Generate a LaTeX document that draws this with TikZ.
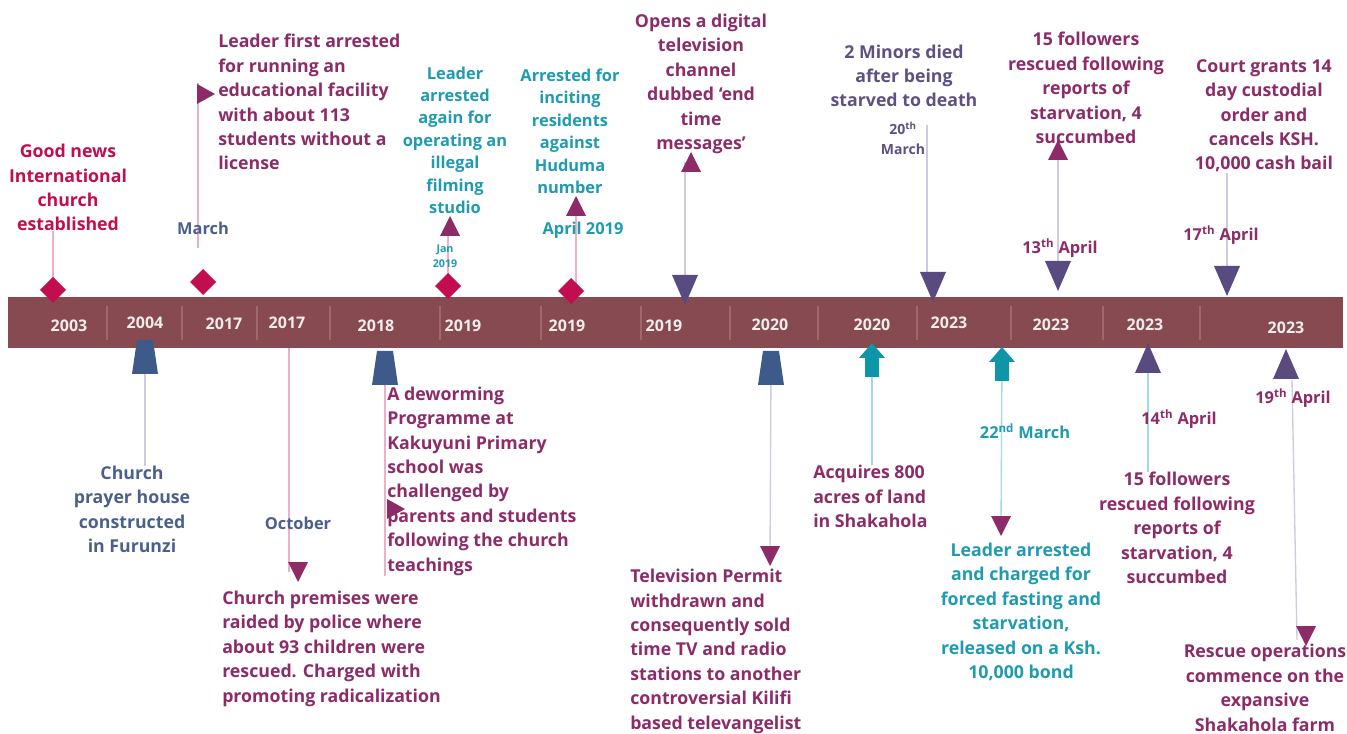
\documentclass[tikz,border=0pt]{standalone}
\usepackage{fontspec}
\setmainfont{Open Sans}
\usepackage{xcolor}
\usepackage{tikz}
\usetikzlibrary{backgrounds}

\definecolor{barred}{HTML}{874A50}
\definecolor{crimson}{HTML}{C20D4F}
\definecolor{plum}{HTML}{8C2B68}
\definecolor{tealtxt}{HTML}{1E9BB0}
\definecolor{tealarr}{HTML}{0E95A8}
\definecolor{slate}{HTML}{4B5F8E}
\definecolor{navyblk}{HTML}{3E5A8A}
\definecolor{darkpur}{HTML}{594B80}
\definecolor{greypur}{HTML}{5E5082}
\definecolor{yeartxt}{HTML}{F3ECEC}
\definecolor{sepline}{HTML}{A0676D}
\definecolor{pinkline}{HTML}{EDB0C6}
\definecolor{lavline}{HTML}{CFCAE0}
\definecolor{tealline}{HTML}{A3DAE3}

\begin{document}
\begin{tikzpicture}[
    x=0.75pt, y=-0.75pt,
    every node/.style={inner sep=0pt, font=\bfseries\fontsize{13.3}{18.3}\selectfont},
    desc/.style={align=center, anchor=base},
    descleft/.style={align=left, anchor=base west},
    narrow/.style={font=\bfseries\fontsize{12.3}{16.8}\selectfont},
    datelbl/.style={font=\bfseries\fontsize{12.3}{14}\selectfont},
    tinylbl/.style={align=center, font=\bfseries\fontsize{8}{11}\selectfont},
    yearlbl/.style={text=yeartxt, font=\bfseries\fontsize{12}{14}\selectfont},
    pinkln/.style={draw=pinkline, line width=1pt},
    lavln/.style={draw=lavline, line width=1pt},
    tealln/.style={draw=tealline, line width=1pt},
    diam/.pic={\fill (-13,0) -- (0,-13) -- (13,0) -- (0,13) -- cycle;},
    bigdown/.pic={\fill (-13,-15) -- (13,-15) -- (0,15) -- cycle;},
    bigup/.pic={\fill (-13,15) -- (13,15) -- (0,-15) -- cycle;},
    ptrdown/.pic={\fill (-10,-10) -- (10,-10) -- (0,10) -- cycle;},
    ptrup/.pic={\fill (-10,10) -- (10,10) -- (0,-10) -- cycle;},
    ptrright/.pic={\fill (-9,-10) -- (9,0) -- (-9,10) -- cycle;},
    trap/.pic={\fill (-8,-17) -- (8,-17) -- (13,17) -- (-13,17) -- cycle;},
    blockup/.pic={\fill (0,-17) -- (13,-2) -- (7,-2) -- (7,17) -- (-7,17) -- (-7,-2) -- (-13,-2) -- cycle;}
]
\useasboundingbox (0,0) rectangle (1347,734);

% marker positions above the bar
\coordinate (m03) at (53,290);
\coordinate (m17a) at (203,282);
\coordinate (m19a) at (448,286);
\coordinate (m19b) at (571,291);
\coordinate (m19c) at (685,290);
\coordinate (m20m) at (933,287);
\coordinate (m13a) at (1058,276);
\coordinate (m17b) at (1227,281);
\coordinate (p17a) at (206,94);
\coordinate (p19a) at (450,226);
\coordinate (p19b) at (576,206);
\coordinate (p19c) at (691,162);
\coordinate (p13a) at (1058,150);

% marker positions below the bar
\coordinate (m04) at (145,357);
\coordinate (m17c) at (289,348);
\coordinate (m18) at (385,368);
\coordinate (m20a) at (771,368);
\coordinate (m20b) at (872,360);
\coordinate (m23a) at (1002,364);
\coordinate (m23b) at (1148,358);
\coordinate (m23c) at (1286,364);
\coordinate (p17c) at (298,572);
\coordinate (p18) at (396,509);
\coordinate (p20a) at (770,556);
\coordinate (p23a) at (1001,526);
\coordinate (p23c) at (1306,636);

% free line ends
\coordinate (l17a) at (198,248);
\coordinate (u17a) at (198,83);
\coordinate (l20m) at (927,125);
\coordinate (l23c) at (1292,380);
\coordinate (u23c) at (1297,640);

% the bar with its years
\fill[barred] (8,297) rectangle (1343,348);
\draw[sepline, line width=0.8pt] (107,306) -- (107,340) (182,306) -- (182,340)
  (257,306) -- (257,340) (330,306) -- (330,340) (440,306) -- (440,340)
  (541,306) -- (541,340) (641,306) -- (641,340) (730,306) -- (730,340)
  (818,306) -- (818,340) (917,306) -- (917,340) (1011,306) -- (1011,340)
  (1103,306) -- (1103,340) (1200,306) -- (1200,340);
\node (y03) [yearlbl] at (69,326) {2003};
\node (y04) [yearlbl] at (145,323) {2004};
\node (y17a) [yearlbl] at (224,324) {2017};
\node (y17b) [yearlbl] at (287,323) {2017};
\node (y18) [yearlbl] at (376,326) {2018};
\node (y19a) [yearlbl] at (463,326) {2019};
\node (y19b) [yearlbl] at (567,326) {2019};
\node (y19c) [yearlbl] at (664,326) {2019};
\node (y20a) [yearlbl] at (770,325) {2020};
\node (y20b) [yearlbl] at (872,325) {2020};
\node (y23a) [yearlbl] at (949,323) {2023};
\node (y23b) [yearlbl] at (1051,325) {2023};
\node (y23c) [yearlbl] at (1145,325) {2023};
\node (y23d) [yearlbl] at (1286,328) {2023};

% event texts above the bar (placed by the baseline of their last line)
\node (t03) [desc, text=crimson] at (68,231) {Good news\\International\\church\\established};
\node (t17a) [descleft, text=plum] at (218,170) {Leader first arrested\\for running an\\educational facility\\with about 113\\students without a\\license};
\node (t19a) [desc, narrow, text=tealtxt] at (455,213.5) {Leader\\arrested\\again for\\operating an\\illegal\\filming\\studio};
\node (t19b) [desc, narrow, text=tealtxt] at (570,193.5) {Arrested for\\inciting\\residents\\against\\Huduma\\number};
\node (t19c) [desc, text=plum] at (701,149.5) {Opens a digital\\television\\channel\\dubbed `end\\time\\messages'};
\node (t20m) [desc, text=greypur] at (904,107) {2 Minors died\\after being\\starved to death};
\node (t13a) [desc, text=plum] at (1086,143.5) {15 followers\\rescued following\\reports of\\starvation, 4\\succumbed};
\node (t17b) [desc, text=plum] at (1264,170) {Court grants 14\\day custodial\\order and\\cancels KSH.\\10,000 cash bail};

% event texts below the bar
\node (t04) [desc, text=slate] at (132,552.5) {Church\\prayer house\\constructed\\in Furunzi};
\node (t17c) [descleft, text=plum] at (222,702) {Church premises were\\raided by police where\\about 93 children were\\rescued. Charged with\\promoting radicalization};
\node (t18) [descleft, text=plum] at (387,571) {A deworming\\Programme at\\Kakuyuni Primary\\school was\\challenged by\\parents and students\\following the church\\teachings};
\node (t20a) [descleft, text=plum] at (630,729) {Television Permit\\withdrawn and\\consequently sold\\time TV and radio\\stations to another\\controversial Kilifi\\based televangelist};
\node (t20b) [descleft, text=plum] at (813,527.5) {Acquires 800\\acres of land\\in Shakahola};
\node (t23a) [desc, text=tealtxt] at (1021,678.5) {Leader arrested\\and charged for\\forced fasting and\\starvation,\\released on a Ksh.\\10,000 bond};
\node (t23b) [desc, text=plum] at (1177,583.5) {15 followers\\rescued following\\reports of\\starvation, 4\\succumbed};
\node (t23c) [desc, text=plum] at (1265,731) {Rescue operations\\commence on the\\expansive\\Shakahola farm};

% dates
\node (d17a) [datelbl, text=slate] at (203,228) {March};
\node (d19a) [tinylbl, text=tealtxt] at (445,256) {Jan\\2019};
\node (d19b) [datelbl, text=tealtxt] at (583,230) {April 2019};
\node (d20m) [align=center, text=greypur, font=\bfseries\fontsize{10.5}{15}\selectfont] at (903,138) {20\textsuperscript{th}\\March};
\node (d17c) [datelbl, text=slate] at (298,523) {October};
\node (d13a) [datelbl, text=plum] at (1060,248) {13\textsuperscript{th} April};
\node (d17b) [datelbl, text=plum] at (1221,235) {17\textsuperscript{th} April};
\node (d23a) [datelbl, text=tealtxt] at (1025,431) {22\textsuperscript{nd} March};
\node (d23b) [datelbl, text=plum] at (1179,419) {14\textsuperscript{th} April};
\node (d23c) [datelbl, text=plum] at (1293,398) {19\textsuperscript{th} April};

% connecting lines, behind everything
\begin{scope}[on background layer]
\draw[pinkln] (m03) -- (m03 |- t03.south);
\draw[pinkln] (l17a) -- (u17a);
\draw[pinkln] (m19a) -- (m19a |- p19a);
\draw[pinkln] (p19b) -- (p19b |- m19b);
\draw[lavln] (m19c) -- (m19c |- p19c);
\draw[lavln] (l20m) -- (l20m |- m20m);
\draw[lavln] (m13a) -- (p13a);
\draw[lavln] (m17b) -- (m17b |- t17b.south);
\draw[lavln] (m04) -- (m04 |- t04.north);
\draw[pinkln] (m17c) -- (m17c |- p17c);
\draw[pinkln] (m18) -- (m18 |- t18.south);
\draw[lavln] (m20a) -- (p20a);
\draw[tealln] (m20b) -- (m20b |- t20b.north);
\draw[tealln] (m23a) -- (p23a);
\draw[tealln] (m23b) -- (m23b |- t23b.north);
\draw[lavln] (l23c) -- (u23c);
\end{scope}

% markers
\pic[fill=crimson] at (m03) {diam};
\pic[fill=crimson] at (m17a) {diam};
\pic[fill=crimson] at (m19a) {diam};
\pic[fill=crimson] at (m19b) {diam};
\pic[fill=darkpur] at (m19c) {bigdown};
\pic[fill=darkpur] at (m20m) {bigdown};
\pic[fill=darkpur] at (m13a) {bigdown};
\pic[fill=darkpur] at (m17b) {bigdown};
\pic[fill=plum] at (p17a) {ptrright};
\pic[fill=plum] at (p19a) {ptrup};
\pic[fill=plum] at (p19b) {ptrup};
\pic[fill=plum] at (p19c) {ptrup};
\pic[fill=plum] at (p13a) {ptrup};
\pic[fill=navyblk] at (m04) {trap};
\pic[fill=navyblk] at (m18) {trap};
\pic[fill=navyblk] at (m20a) {trap};
\pic[fill=tealarr] at (m20b) {blockup};
\pic[fill=tealarr] at (m23a) {blockup};
\pic[fill=darkpur] at (m23b) {bigup};
\pic[fill=darkpur] at (m23c) {bigup};
\pic[fill=plum] at (p17c) {ptrdown};
\pic[fill=plum] at (p18) {ptrright};
\pic[fill=plum] at (p20a) {ptrdown};
\pic[fill=plum] at (p23a) {ptrdown};
\pic[fill=plum] at (p23c) {ptrdown};

\end{tikzpicture}
\end{document}
